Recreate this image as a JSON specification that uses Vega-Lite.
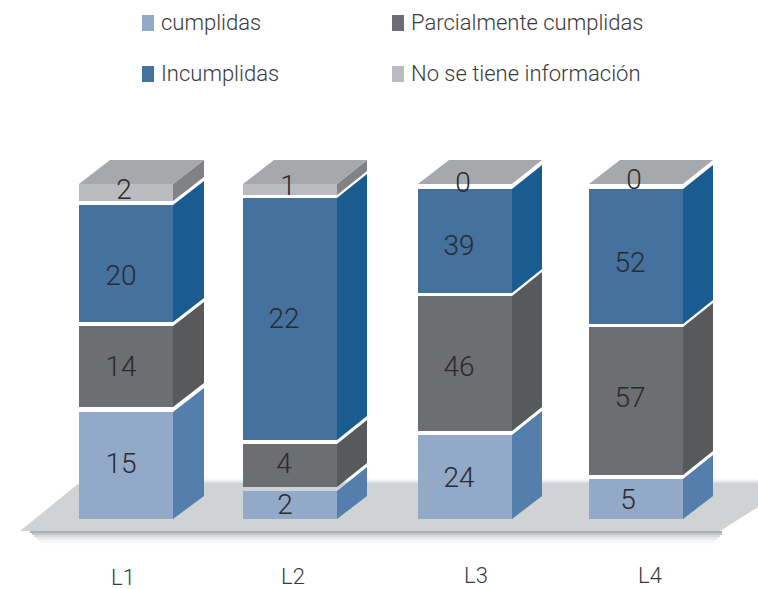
{
"$schema":"https://vega.github.io/schema/vega-lite/v6.json",
"width":758,"height":589,"autosize":{"type":"none"},"padding":0,"background":"#ffffff",
"config":{"view":{"stroke":null},"font":"Roboto"},
"datasets":{
"suelo":[{"xp":20,"ybajo":-12,"yalto":-12},{"xp":78,"ybajo":-12,"yalto":35},{"xp":720,"ybajo":-12,"yalto":35},{"xp":758,"ybajo":12,"yalto":35}],
"sombras":[
{"x0":82,"x1":758,"y0":35,"y1":36,"sombra":0.55},{"x0":84,"x1":758,"y0":36,"y1":37,"sombra":0.4},{"x0":85,"x1":758,"y0":37,"y1":38,"sombra":0.28},{"x0":86,"x1":758,"y0":38,"y1":39,"sombra":0.17},{"x0":88,"x1":758,"y0":39,"y1":40,"sombra":0.09},{"x0":90,"x1":758,"y0":40,"y1":41,"sombra":0.04},
{"x0":30,"x1":722,"y0":-14,"y1":-12,"sombra":1},{"x0":32,"x1":722,"y0":-16,"y1":-14,"sombra":0.7},{"x0":34,"x1":720,"y0":-18,"y1":-16,"sombra":0.45},{"x0":36,"x1":718,"y0":-20,"y1":-18,"sombra":0.28},{"x0":38,"x1":716,"y0":-22,"y1":-20,"sombra":0.16},{"x0":40,"x1":714,"y0":-24,"y1":-22,"sombra":0.08},{"x0":42,"x1":712,"y0":-26,"y1":-24,"sombra":0.03}
],
"segmentos":[
{"linea":"L1","serie":"cumplidas","valor":15,"x0":79,"x1":173,"base":0,"tope":107,"xt":121,"ht":56},
{"linea":"L1","serie":"Parcialmente cumplidas","valor":14,"x0":79,"x1":173,"base":112,"tope":193,"xt":121,"ht":153},
{"linea":"L1","serie":"Incumplidas","valor":20,"x0":79,"x1":173,"base":197,"tope":314,"xt":121,"ht":244},
{"linea":"L1","serie":"No se tiene información","valor":2,"x0":79,"x1":173,"base":318,"tope":335,"xt":124,"ht":330},
{"linea":"L2","serie":"cumplidas","valor":2,"x0":243,"x1":337,"base":0,"tope":28,"xt":285,"ht":15},
{"linea":"L2","serie":"Parcialmente cumplidas","valor":4,"x0":243,"x1":337,"base":32,"tope":75,"xt":284,"ht":56},
{"linea":"L2","serie":"Incumplidas","valor":22,"x0":243,"x1":337,"base":79,"tope":321,"xt":284,"ht":201},
{"linea":"L2","serie":"No se tiene información","valor":1,"x0":243,"x1":337,"base":324,"tope":335,"xt":288,"ht":334},
{"linea":"L3","serie":"cumplidas","valor":24,"x0":418,"x1":512,"base":0,"tope":84,"xt":459,"ht":42},
{"linea":"L3","serie":"Parcialmente cumplidas","valor":46,"x0":418,"x1":512,"base":88,"tope":223,"xt":459,"ht":153},
{"linea":"L3","serie":"Incumplidas","valor":39,"x0":418,"x1":512,"base":226,"tope":330,"xt":459,"ht":274},
{"linea":"L3","serie":"No se tiene información","valor":0,"x0":418,"x1":512,"base":335,"tope":335,"xt":463,"ht":337},
{"linea":"L4","serie":"cumplidas","valor":5,"x0":589,"x1":683,"base":0,"tope":40,"xt":628,"ht":20},
{"linea":"L4","serie":"Parcialmente cumplidas","valor":57,"x0":589,"x1":683,"base":44,"tope":192,"xt":630,"ht":122},
{"linea":"L4","serie":"Incumplidas","valor":52,"x0":589,"x1":683,"base":195,"tope":330,"xt":630,"ht":257},
{"linea":"L4","serie":"No se tiene información","valor":0,"x0":589,"x1":683,"base":335,"tope":335,"xt":634,"ht":340}
],
"caras":[
{"linea":"L1","cara":"c","xp":173,"ybajo":0,"yalto":107},{"linea":"L1","cara":"c","xp":204,"ybajo":23,"yalto":131},
{"linea":"L1","cara":"p","xp":173,"ybajo":112,"yalto":193},{"linea":"L1","cara":"p","xp":204,"ybajo":136,"yalto":217},
{"linea":"L1","cara":"i","xp":173,"ybajo":197,"yalto":314},{"linea":"L1","cara":"i","xp":204,"ybajo":221,"yalto":338},
{"linea":"L1","cara":"n","xp":173,"ybajo":318,"yalto":335},{"linea":"L1","cara":"n","xp":204,"ybajo":342,"yalto":359},
{"linea":"L2","cara":"c","xp":337,"ybajo":0,"yalto":28},{"linea":"L2","cara":"c","xp":367,"ybajo":23,"yalto":52},
{"linea":"L2","cara":"p","xp":337,"ybajo":32,"yalto":75},{"linea":"L2","cara":"p","xp":367,"ybajo":56,"yalto":99},
{"linea":"L2","cara":"i","xp":337,"ybajo":79,"yalto":321},{"linea":"L2","cara":"i","xp":367,"ybajo":103,"yalto":345},
{"linea":"L2","cara":"n","xp":337,"ybajo":324,"yalto":335},{"linea":"L2","cara":"n","xp":367,"ybajo":348,"yalto":359},
{"linea":"L3","cara":"c","xp":512,"ybajo":0,"yalto":84},{"linea":"L3","cara":"c","xp":542,"ybajo":23,"yalto":108},
{"linea":"L3","cara":"p","xp":512,"ybajo":88,"yalto":223},{"linea":"L3","cara":"p","xp":542,"ybajo":112,"yalto":247},
{"linea":"L3","cara":"i","xp":512,"ybajo":226,"yalto":330},{"linea":"L3","cara":"i","xp":542,"ybajo":250,"yalto":354},
{"linea":"L4","cara":"c","xp":683,"ybajo":0,"yalto":40},{"linea":"L4","cara":"c","xp":713,"ybajo":23,"yalto":64},
{"linea":"L4","cara":"p","xp":683,"ybajo":44,"yalto":192},{"linea":"L4","cara":"p","xp":713,"ybajo":68,"yalto":216},
{"linea":"L4","cara":"i","xp":683,"ybajo":195,"yalto":330},{"linea":"L4","cara":"i","xp":713,"ybajo":219,"yalto":354},
{"linea":"L1","cara":"t","xp":79,"ybajo":335,"yalto":335},{"linea":"L1","cara":"t","xp":110,"ybajo":335,"yalto":359},{"linea":"L1","cara":"t","xp":173,"ybajo":335,"yalto":359},{"linea":"L1","cara":"t","xp":204,"ybajo":359,"yalto":359},
{"linea":"L2","cara":"t","xp":243,"ybajo":335,"yalto":335},{"linea":"L2","cara":"t","xp":274,"ybajo":335,"yalto":359},{"linea":"L2","cara":"t","xp":337,"ybajo":335,"yalto":359},{"linea":"L2","cara":"t","xp":367,"ybajo":359,"yalto":359},
{"linea":"L3","cara":"t","xp":418,"ybajo":335,"yalto":335},{"linea":"L3","cara":"t","xp":449,"ybajo":335,"yalto":359},{"linea":"L3","cara":"t","xp":512,"ybajo":335,"yalto":359},{"linea":"L3","cara":"t","xp":542,"ybajo":359,"yalto":359},
{"linea":"L4","cara":"t","xp":589,"ybajo":335,"yalto":335},{"linea":"L4","cara":"t","xp":620,"ybajo":335,"yalto":359},{"linea":"L4","cara":"t","xp":683,"ybajo":335,"yalto":359},{"linea":"L4","cara":"t","xp":713,"ybajo":359,"yalto":359}
],
"etiquetas":[{"linea":"L1","xt":123,"ht":-59},{"linea":"L2","xt":293,"ht":-58},{"linea":"L3","xt":476,"ht":-57},{"linea":"L4","xt":650,"ht":-57}]
},
"layer":[
{"data":{"name":"sombras"},"mark":{"type":"rect"},
 "encoding":{"x":{"field":"x0","type":"quantitative","scale":{"domain":[0,758],"nice":false,"zero":false},"axis":null},"x2":{"field":"x1"},"y":{"field":"y0","type":"quantitative","scale":{"domain":[-70,519],"nice":false,"zero":false},"axis":null},"y2":{"field":"y1"},
 "fill":{"field":"sombra","type":"quantitative","legend":null,"scale":{"domain":[0,1],"range":["#ffffff","#aeafb1"]}}}},
{"data":{"name":"suelo"},"mark":{"type":"area","color":"#d1d2d4"},
 "encoding":{"x":{"field":"xp","type":"quantitative","axis":null},"y":{"field":"ybajo","type":"quantitative","stack":null,"axis":null},"y2":{"field":"yalto"}}},
{"data":{"name":"caras"},"mark":{"type":"area"},
 "encoding":{"x":{"field":"xp","type":"quantitative","axis":null},"y":{"field":"ybajo","type":"quantitative","stack":null,"axis":null},"y2":{"field":"yalto"},"detail":{"field":"linea"},
 "fill":{"field":"cara","type":"nominal","legend":null,"scale":{"domain":["c","p","i","n","t"],"range":["#547eab","#58595b","#1a5c8f","#808285","#a7a8ab"]}}}},
{"data":{"name":"segmentos"},"mark":{"type":"rect"},
 "encoding":{"x":{"field":"x0","type":"quantitative","axis":null},"x2":{"field":"x1"},"y":{"field":"base","type":"quantitative","axis":null},"y2":{"field":"tope"},
 "color":{"field":"serie","type":"nominal","sort":null,"scale":{"domain":["cumplidas","Parcialmente cumplidas","Incumplidas","No se tiene información"],"range":["#92a9c8","#6d6e71","#44719e","#bbbcc0"]},
  "legend":{"title":null,"orient":"none","legendX":137,"legendY":12,"direction":"horizontal","columns":2,"columnPadding":107,"rowPadding":29,"symbolType":"M-0.75,-1H0.75V1H-0.75Z","symbolSize":256,"symbolStrokeWidth":0,"labelFontSize":22,"labelFontWeight":300,"labelFont":"Roboto","labelColor":"#3a3a3c","labelOffset":2,"labelLimit":300,"encode":{"symbols":{"update":{"fill":{"signal":"datum.value==='Incumplidas'?'#2f6595':scale('color',datum.value)"},"opacity":{"value":1}}}}}}}},
{"data":{"name":"segmentos"},"mark":{"type":"text","font":"Roboto","fontWeight":300,"fontSize":28,"dy":2,"color":"#2b2a2d","align":"center","baseline":"middle"},
 "encoding":{"x":{"field":"xt","type":"quantitative","axis":null},"y":{"field":"ht","type":"quantitative","axis":null},"text":{"field":"valor","type":"quantitative"}}},
{"data":{"name":"etiquetas"},"mark":{"type":"text","font":"Roboto","fontWeight":300,"fontSize":22,"color":"#3a3a3c","align":"center","baseline":"middle"},
 "encoding":{"x":{"field":"xt","type":"quantitative","axis":null},"y":{"field":"ht","type":"quantitative","axis":null},"text":{"field":"linea","type":"nominal"}}}
],
"resolve":{"scale":{"color":"independent","fill":"independent"}}
}
